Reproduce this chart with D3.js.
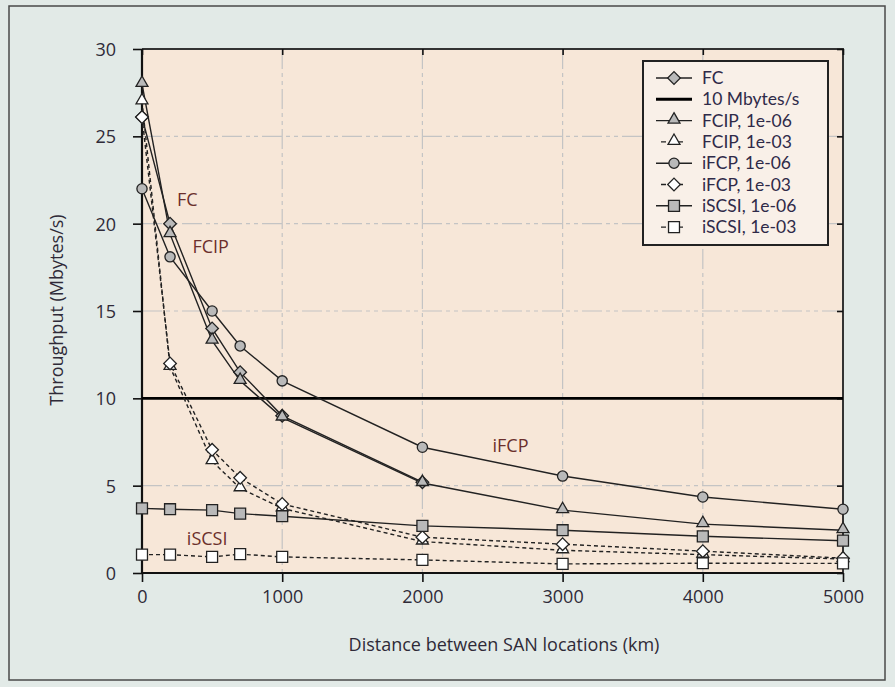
<!DOCTYPE html>
<html><head><meta charset="utf-8">
<script src="https://cdn.jsdelivr.net/npm/d3@7"></script>
<style>
html,body{margin:0;padding:0;background:#e2eae7;}
svg{display:block;font-family:"Open Sans",sans-serif;}
</style></head>
<body>
<svg id="chart" width="895" height="687"></svg>
<script>
// ---- data ----
const distances = [0, 200, 500, 700, 1000, 2000, 3000, 4000, 5000];
const fcDistances = [0, 200, 500, 700, 1000, 2000];
const fc      = [26.1, 20, 14, 11.5, 9, 5.2];
const fcip6   = [28, 19.4, 13.3, 11, 8.9, 5.15, 3.6, 2.8, 2.45];
const fcip3   = [27, 11.8, 6.4, 4.85, 3.7, 1.8, 1.3, 1.05, 0.8];
const ifcp6   = [22, 18.1, 15, 13, 11, 7.2, 5.55, 4.35, 3.65];
const ifcp3   = [26.1, 12, 7.05, 5.45, 3.95, 2.05, 1.65, 1.25, 0.85];
const iscsi6  = [3.7, 3.65, 3.6, 3.4, 3.25, 2.7, 2.45, 2.1, 1.85];
const iscsi3  = [1.05, 1.05, 0.92, 1.08, 0.92, 0.75, 0.52, 0.56, 0.55];
const threshold = 10;
const xTicks = [0, 1000, 2000, 3000, 4000, 5000];
const yTicks = [0, 5, 10, 15, 20, 25, 30];
const legendLabels = ["FC", "10 Mbytes/s", "FCIP, 1e-06", "FCIP, 1e-03", "iFCP, 1e-06", "iFCP, 1e-03", "iSCSI, 1e-06", "iSCSI, 1e-03"];
const curveLabels = [
  {text: "FC", d: 250, v: 21.0},
  {text: "FCIP", d: 360, v: 18.3},
  {text: "iFCP", d: 2500, v: 6.9},
  {text: "iSCSI", d: 320, v: 1.6}
];

const series = [
  {name: "FC", xs: fcDistances, ys: fc, sym: "diamond", fill: "#b9b9b9", dash: null},
  {name: "FCIP, 1e-06", xs: distances, ys: fcip6, sym: "triangle", fill: "#b9b9b9", dash: null},
  {name: "FCIP, 1e-03", xs: distances, ys: fcip3, sym: "triangle", fill: "#ffffff", dash: "4,3"},
  {name: "iFCP, 1e-06", xs: distances, ys: ifcp6, sym: "circle", fill: "#b9b9b9", dash: null},
  {name: "iFCP, 1e-03", xs: distances, ys: ifcp3, sym: "diamond", fill: "#ffffff", dash: "4,3"},
  {name: "iSCSI, 1e-06", xs: distances, ys: iscsi6, sym: "square", fill: "#b9b9b9", dash: null},
  {name: "iSCSI, 1e-03", xs: distances, ys: iscsi3, sym: "square", fill: "#ffffff", dash: "4,3"}
];

// ---- layout ----
const svg = d3.select("#chart");
const L = 142, R = 843, T = 49, B = 573;
const x = d3.scaleLinear().domain([0, 5000]).range([L, R]);
const y = d3.scaleLinear().domain([0, 30]).range([B, T]);
const textColor = "#2f2a38";
const labelColor = "#6b2f2c";

// outer frame
svg.append("rect").attr("x", 9).attr("y", 6).attr("width", 876).attr("height", 674)
  .attr("fill", "#e2eae7").attr("stroke", "#4a4a4a").attr("stroke-width", 1.5);

// plot background
svg.append("rect").attr("x", L).attr("y", T).attr("width", R - L).attr("height", B - T)
  .attr("fill", "#f7e7d8");

// grid
const grid = svg.append("g").attr("stroke", "#c4c4c4").attr("stroke-width", 1.2)
  .attr("stroke-dasharray", "20,4,4,4,4,4");
grid.selectAll("line.gx").data(xTicks.filter(d => d > 0 && d < 5000)).join("line")
  .attr("x1", d => x(d)).attr("x2", d => x(d)).attr("y1", T).attr("y2", B);
grid.selectAll("line.gy").data(yTicks.filter(d => d > 0 && d < 30)).join("line")
  .attr("x1", L).attr("x2", R).attr("y1", d => y(d)).attr("y2", d => y(d));

// border top/right
svg.append("path").attr("d", `M${L},${T}H${R}V${B}`).attr("fill", "none")
  .attr("stroke", "#333").attr("stroke-width", 2);

// axes
const xAxis = d3.axisBottom(x).tickValues(xTicks).tickSize(9).tickPadding(8).tickFormat(d3.format("d"));
const yAxis = d3.axisLeft(y).tickValues(yTicks).tickSize(9).tickPadding(17).tickFormat(d3.format("d"));
const gx = svg.append("g").attr("transform", `translate(0,${B})`).call(xAxis);
const gy = svg.append("g").attr("transform", `translate(${L},0)`).call(yAxis);
[gx, gy].forEach(g => {
  g.select(".domain").attr("stroke", "#111").attr("stroke-width", 2.2);
  g.selectAll(".tick line").attr("stroke", "#111").attr("stroke-width", 1.6);
  g.selectAll(".tick text").attr("fill", textColor).style("font-size", "18px")
    .style("font-family", "'Open Sans', sans-serif");
});
gy.select(".domain").attr("d", `M0,${B}V${T}`);
gx.select(".domain").attr("d", `M${L},0H${R}`);
gy.selectAll(".tick text").attr("dy", "0.36em");
// mirrored inward ticks
const gTop = svg.append("g").attr("transform", `translate(0,${T})`).call(d3.axisBottom(x).tickValues(xTicks).tickSize(6).tickFormat(""));
const gRight = svg.append("g").attr("transform", `translate(${R},0)`).call(d3.axisLeft(y).tickValues(yTicks).tickSize(6).tickFormat(""));
[gTop, gRight].forEach(g => {
  g.select(".domain").remove();
  g.selectAll(".tick line").attr("stroke", "#111").attr("stroke-width", 1.6);
});

// axis titles
svg.append("text").attr("x", 504).attr("y", 651).attr("text-anchor", "middle")
  .attr("fill", textColor).style("font-size", "18px").text("Distance between SAN locations (km)");
svg.append("text").attr("transform", "translate(63,310) rotate(-90)").attr("text-anchor", "middle")
  .attr("fill", textColor).style("font-size", "18px").text("Throughput (Mbytes/s)");

// threshold line
svg.append("line").attr("x1", L).attr("x2", R).attr("y1", y(threshold)).attr("y2", y(threshold))
  .attr("stroke", "#000").attr("stroke-width", 2.6);

// symbol generator
function symPath(sym) {
  if (sym === "diamond") return d3.symbol().type(d3.symbolSquare).size(80)();
  if (sym === "triangle") return d3.symbol().type(d3.symbolTriangle).size(62)();
  if (sym === "circle") return d3.symbol().type(d3.symbolCircle).size(82)();
  return d3.symbol().type(d3.symbolSquare).size(120)();
}
function symTransform(sym, px, py) {
  if (sym === "diamond") return `translate(${px},${py}) rotate(45)`;
  if (sym === "triangle") return `translate(${px},${py - 1})`;
  return `translate(${px},${py})`;
}

const line = d3.line().x(d => x(d[0])).y(d => y(d[1]));
const gLines = svg.append("g");
const gMarks = svg.append("g");
series.forEach(s => {
  const pts = s.xs.map((d, i) => [d, s.ys[i]]);
  gLines.append("path").datum(pts).attr("d", line).attr("fill", "none")
    .attr("stroke", "#222").attr("stroke-width", 1.4)
    .attr("stroke-dasharray", s.dash);
});
series.forEach(s => {
  const pts = s.xs.map((d, i) => [d, s.ys[i]]);
  gMarks.selectAll(null).data(pts).join("path")
    .attr("d", symPath(s.sym))
    .attr("transform", d => symTransform(s.sym, x(d[0]), y(d[1])))
    .attr("fill", s.fill).attr("stroke", "#222").attr("stroke-width", 1.3);
});

// curve labels
svg.selectAll("text.cl").data(curveLabels).join("text")
  .attr("x", d => x(d.d)).attr("y", d => y(d.v))
  .attr("fill", labelColor).style("font-size", "18px").text(d => d.text);

// legend
const lg = svg.append("g");
lg.append("rect").attr("x", 643).attr("y", 61).attr("width", 185).attr("height", 184)
  .attr("fill", "#f9f0e8").attr("stroke", "#222").attr("stroke-width", 2);
const legendItems = [
  {label: legendLabels[0], sym: "diamond", fill: "#b9b9b9", dash: null, thick: false},
  {label: legendLabels[1], sym: null, thick: true},
  {label: legendLabels[2], sym: "triangle", fill: "#b9b9b9", dash: null},
  {label: legendLabels[3], sym: "triangle", fill: "#ffffff", dash: "4,3"},
  {label: legendLabels[4], sym: "circle", fill: "#b9b9b9", dash: null},
  {label: legendLabels[5], sym: "diamond", fill: "#ffffff", dash: "4,3"},
  {label: legendLabels[6], sym: "square", fill: "#b9b9b9", dash: null},
  {label: legendLabels[7], sym: "square", fill: "#ffffff", dash: "4,3"}
];
legendItems.forEach((it, i) => {
  const cy = 78 + i * 21.3;
  if (it.thick) {
    lg.append("line").attr("x1", 656).attr("x2", 692).attr("y1", cy).attr("y2", cy)
      .attr("stroke", "#000").attr("stroke-width", 3);
  } else {
    const x1 = it.dash ? 661 : 656, x2 = it.dash ? 688 : 692;
    lg.append("line").attr("x1", x1).attr("x2", x2).attr("y1", cy).attr("y2", cy)
      .attr("stroke", "#222").attr("stroke-width", 1.4).attr("stroke-dasharray", it.dash ? "5,12" : null);
    lg.append("path").attr("d", symPath(it.sym)).attr("transform", symTransform(it.sym, 674, cy))
      .attr("fill", it.fill).attr("stroke", "#222").attr("stroke-width", 1.3);
  }
  lg.append("text").attr("x", 702).attr("y", cy).attr("dy", "0.35em")
    .attr("fill", "#2f2a48").style("font-family", "Lato, 'Open Sans', sans-serif")
    .style("font-size", "17.5px").text(it.label);
});
</script>
</body></html>
